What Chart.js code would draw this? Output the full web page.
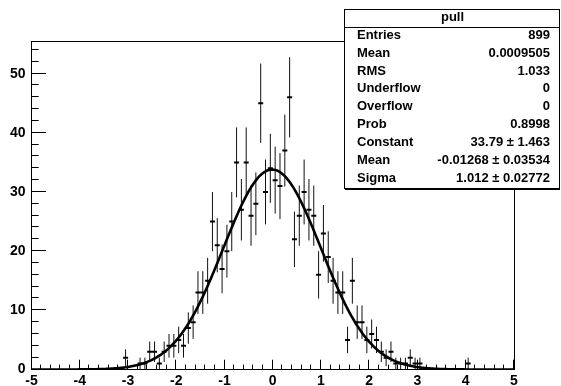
<!DOCTYPE html>
<html>
<head>
<meta charset="utf-8">
<script src="https://cdn.jsdelivr.net/npm/chart.js@4/dist/chart.umd.min.js"></script>
<style>
  html, body { margin: 0; padding: 0; background: #fff; }
  canvas { display: block; }
</style>
</head>
<body>
<canvas id="pull" width="561" height="386"></canvas>
<script>
// histogram "pull": bin centres and contents (empty bins left out)
const binCenters = [-3.05, -2.75, -2.65, -2.55, -2.45, -2.35, -2.25, -2.15, -2.05, -1.95,
  -1.85, -1.75, -1.65, -1.55, -1.45, -1.35, -1.25, -1.15, -1.05, -0.95,
  -0.85, -0.75, -0.65, -0.55, -0.45, -0.35, -0.25, -0.15, -0.05,
  0.05, 0.15, 0.25, 0.35, 0.45, 0.55, 0.65, 0.75, 0.85, 0.95,
  1.05, 1.15, 1.25, 1.35, 1.45, 1.55, 1.65, 1.75, 1.85, 1.95,
  2.05, 2.15, 2.25, 2.35, 2.45, 2.55, 2.65, 2.75, 2.85, 2.95,
  3.05, 4.05];
const counts = [2, 1, 1, 3, 3, 1, 3, 4, 4, 5,
  4, 7, 8, 13, 13, 15, 25, 21, 17, 20,
  25, 35, 27, 35, 26, 28, 45, 30, 34,
  32, 31, 37, 46, 22, 26, 30, 27, 26, 16,
  23, 19, 15, 13, 13, 5, 15, 8, 8, 5,
  6, 5, 3, 2, 3, 1, 1, 1, 2, 1,
  1, 1];

// gaus fit parameters (from the stats box)
const fitConstant = 33.79, fitMean = -0.01268, fitSigma = 1.012;

const xTicks = [-5, -4, -3, -2, -1, 0, 1, 2, 3, 4, 5];
const yTicks = [0, 10, 20, 30, 40, 50];

const statLabels = ["Entries", "Mean", "RMS", "Underflow", "Overflow", "Prob", "Constant", "Mean", "Sigma"];
const statValues = ["899", "0.0009505", "1.033", "0", "0", "0.8998",
  "33.79 \u00b1 1.463", "-0.01268 \u00b1 0.03534", "1.012 \u00b1 0.02772"];

const FONT = '"Liberation Sans", Arial, Helvetica, sans-serif';

const points = binCenters.map((x, i) => ({x: x, y: counts[i]}));

// fit curve sampled across the axis range
const fitLine = [];
for (let i = 0; i <= 400; i++) {
  const x = -5 + i * 0.025;
  const t = (x - fitMean) / fitSigma;
  fitLine.push({x: x, y: fitConstant * Math.exp(-0.5 * t * t)});
}

const rootStyle = {
  id: 'rootStyle',
  beforeDatasetsDraw(chart) {
    const c = chart.ctx, xs = chart.scales.x, ys = chart.scales.y;
    c.save();
    c.strokeStyle = '#111';
    c.lineWidth = 1;
    points.forEach(p => {
      const e = Math.sqrt(p.y);
      const px = xs.getPixelForValue(p.x);
      c.beginPath();
      c.moveTo(px, ys.getPixelForValue(p.y - e));
      c.lineTo(px, ys.getPixelForValue(p.y + e));
      c.stroke();
    });
    c.restore();
  },
  afterDraw(chart) {
    const c = chart.ctx, xs = chart.scales.x, ys = chart.scales.y;
    const a = chart.chartArea;
    c.save();
    c.strokeStyle = '#000';
    c.lineWidth = 1;
    // frame
    c.strokeRect(Math.round(a.left) - 0.5, Math.round(a.top) - 0.5,
      Math.round(a.right - a.left), Math.round(a.bottom - a.top));

    // x ticks, inside the frame
    c.beginPath();
    for (let k = 0; k <= 50; k++) {
      const v = -5 + k * 0.2;
      const px = Math.round(xs.getPixelForValue(v)) - 0.5;
      const len = (k % 5 === 0) ? 9.8 : 4.9;
      c.moveTo(px, a.bottom);
      c.lineTo(px, a.bottom - len);
    }
    // y ticks
    for (let v = 0; v <= 54; v += 2) {
      const py = Math.round(ys.getPixelForValue(v)) - 0.5;
      const len = (v % 10 === 0) ? 14.5 : 7.2;
      c.moveTo(a.left, py);
      c.lineTo(a.left + len, py);
    }
    c.stroke();

    // stats box
    const bx = 344, by = 9, bw = 215, bh = 179;
    c.fillStyle = '#000';
    c.fillRect(bx + 1, by + bh, bw, 2);
    c.fillStyle = '#fff';
    c.fillRect(bx, by, bw, bh);
    c.strokeRect(bx + 0.5, by + 0.5, bw, bh);
    c.beginPath();
    c.moveTo(bx, 27.5);
    c.lineTo(bx + bw, 27.5);
    c.stroke();

    c.fillStyle = '#000';
    c.font = 'bold 13px ' + FONT;
    c.textBaseline = 'middle';
    c.textAlign = 'center';
    c.fillText('pull', bx + bw / 2 + 1, 17.5);
    const rowH = (by + bh - 27.5) / statLabels.length;
    statLabels.forEach((lab, i) => {
      const y = 27.5 + rowH * (i + 0.5) - 1;
      c.textAlign = 'left';
      c.fillText(lab, 357, y);
      c.textAlign = 'right';
      c.fillText(statValues[i], 550, y);
    });
    c.restore();
  }
};

new Chart(document.getElementById('pull'), {
  type: 'scatter',
  data: {
    datasets: [
      {
        label: 'gaus',
        data: fitLine,
        showLine: true,
        borderColor: '#000',
        borderWidth: 2.6,
        pointRadius: 0,
        tension: 0
      },
      {
        label: 'pull',
        data: points,
        pointStyle: 'line',
        pointRadius: 2.5,
        borderColor: '#000',
        backgroundColor: '#000',
        pointBorderWidth: 2,
        showLine: false
      }
    ]
  },
  options: {
    responsive: false,
    animation: false,
    devicePixelRatio: 1,
    layout: { padding: { top: 41.7, right: 47, left: 0, bottom: 0 } },
    plugins: { legend: { display: false }, tooltip: { enabled: false } },
    scales: {
      x: {
        type: 'linear',
        min: -5,
        max: 5,
        afterFit: s => { s.height = 16.5; },
        afterBuildTicks: s => { s.ticks = xTicks.map(v => ({value: v})); },
        grid: { display: false, drawTicks: false },
        border: { display: false },
        ticks: {
          autoSkip: false,
          maxRotation: 0,
          padding: 3,
          color: '#000',
          font: { family: FONT, size: 14, weight: 'bold' }
        }
      },
      y: {
        type: 'linear',
        min: 0,
        max: 55.4,
        afterFit: s => { s.width = 31.5; },
        afterBuildTicks: s => { s.ticks = yTicks.map(v => ({value: v})); },
        grid: { display: false, drawTicks: false },
        border: { display: false },
        ticks: {
          autoSkip: false,
          padding: 6,
          color: '#000',
          font: { family: FONT, size: 14, weight: 'bold' }
        }
      }
    }
  },
  plugins: [rootStyle]
});
</script>
</body>
</html>
